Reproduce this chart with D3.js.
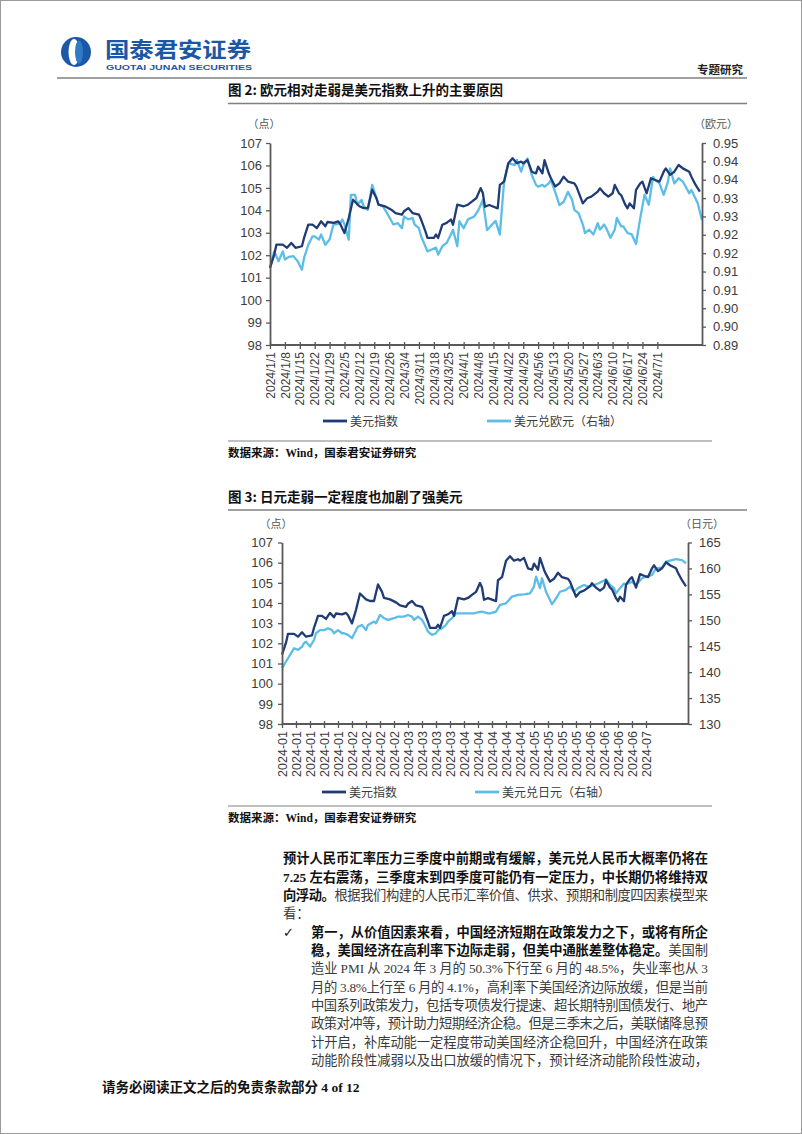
<!DOCTYPE html>
<html><head><meta charset="utf-8">
<script src="https://cdn.jsdelivr.net/npm/d3@7/dist/d3.min.js"></script>
<style>
html,body{margin:0;padding:0;background:#fff;}
svg{display:block;}
</style></head><body>
<svg id="page" width="802" height="1134"></svg>
<script>
// ---------------- DATA ----------------
const dxySeries = [
["2024-01-01",101.44],["2024-01-03",102.03],["2024-01-04",102.47],["2024-01-07",102.47],["2024-01-09",102.33],["2024-01-11",102.55],["2024-01-13",102.33],["2024-01-16",102.40],["2024-01-17",102.77],["2024-01-19",103.36],["2024-01-21",103.36],["2024-01-23",103.21],["2024-01-25",103.51],["2024-01-27",103.29],["2024-01-28",103.48],["2024-01-31",103.44],
["2024-02-02",103.51],["2024-02-03",103.39],["2024-02-05",102.99],["2024-02-07",103.66],["2024-02-09",104.47],["2024-02-12",104.18],["2024-02-14",104.10],["2024-02-16",104.10],["2024-02-18",104.92],["2024-02-20",104.55],["2024-02-21",104.25],["2024-02-24",104.18],["2024-02-27",104.03],["2024-02-29",103.88],
["2024-03-03",103.81],["2024-03-04",103.96],["2024-03-06",104.10],["2024-03-08",103.88],["2024-03-11",103.81],["2024-03-12",103.59],["2024-03-14",103.07],["2024-03-15",102.77],["2024-03-18",102.77],["2024-03-19",102.92],["2024-03-20",102.77],["2024-03-22",103.36],["2024-03-24",103.44],["2024-03-26",103.59],["2024-03-27",103.36],["2024-03-29",104.25],
["2024-04-01",104.18],["2024-04-03",104.25],["2024-04-05",104.40],["2024-04-07",104.55],["2024-04-09",104.99],["2024-04-10",104.77],["2024-04-11",104.16],["2024-04-13",104.24],["2024-04-17",104.09],["2024-04-18",105.13],["2024-04-20",105.28],["2024-04-22",106.10],["2024-04-24",106.32],["2024-04-26",106.10],["2024-04-28",106.17],["2024-04-29",106.10],
["2024-05-01",106.24],["2024-05-03",105.72],["2024-05-05",105.65],["2024-05-06",105.95],["2024-05-08",105.65],["2024-05-09",106.24],["2024-05-11",105.65],["2024-05-12",105.43],["2024-05-14",105.06],["2024-05-16",105.20],["2024-05-18",105.50],["2024-05-20",105.28],["2024-05-23",105.20],["2024-05-24",105.06],["2024-05-27",104.31],["2024-05-29",104.54],["2024-05-31",104.61],
["2024-06-03",104.83],["2024-06-04",104.98],["2024-06-06",104.76],["2024-06-08",104.61],["2024-06-10",104.76],["2024-06-11",105.13],["2024-06-13",104.76],["2024-06-14",104.68],["2024-06-16",104.24],["2024-06-17",104.09],["2024-06-18",104.31],["2024-06-20",104.09],["2024-06-21",104.91],["2024-06-23",105.20],["2024-06-24",105.28],["2024-06-26",104.76],["2024-06-28",105.43],["2024-06-30",105.35],
["2024-07-02",105.28],["2024-07-04",105.72],["2024-07-05",105.87],["2024-07-07",105.58],["2024-07-09",105.72],["2024-07-11",106.02],["2024-07-13",105.87],["2024-07-16",105.72],["2024-07-17",105.50],["2024-07-19",105.13],["2024-07-21",104.83]
];
const eurSeries = [
["2024-01-01",0.9110],["2024-01-03",0.9155],["2024-01-05",0.9128],["2024-01-07",0.9155],["2024-01-08",0.9133],["2024-01-10",0.9140],["2024-01-12",0.9142],["2024-01-14",0.9128],["2024-01-16",0.9105],["2024-01-17",0.9137],["2024-01-19",0.9173],["2024-01-21",0.9196],["2024-01-22",0.9196],["2024-01-24",0.9187],["2024-01-25",0.9201],["2024-01-27",0.9173],["2024-01-29",0.9187],["2024-01-31",0.9232],
["2024-02-01",0.9228],["2024-02-03",0.9232],["2024-02-04",0.9242],["2024-02-05",0.9228],["2024-02-07",0.9187],["2024-02-08",0.9309],["2024-02-10",0.9309],["2024-02-11",0.9282],["2024-02-13",0.9295],["2024-02-14",0.9278],["2024-02-16",0.9268],["2024-02-18",0.9336],["2024-02-21",0.9282],["2024-02-23",0.9278],["2024-02-25",0.9259],["2024-02-28",0.9228],
["2024-03-01",0.9232],["2024-03-03",0.9218],["2024-03-04",0.9250],["2024-03-06",0.9242],["2024-03-08",0.9246],["2024-03-09",0.9228],["2024-03-11",0.9218],["2024-03-12",0.9196],["2024-03-15",0.9155],["2024-03-17",0.9160],["2024-03-19",0.9165],["2024-03-20",0.9146],["2024-03-22",0.9169],["2024-03-24",0.9178],["2024-03-26",0.9201],["2024-03-27",0.9214],["2024-03-29",0.9169],["2024-03-30",0.9237],
["2024-04-01",0.9218],["2024-04-03",0.9242],["2024-04-06",0.9250],["2024-04-08",0.9268],["2024-04-10",0.9295],["2024-04-12",0.9213],["2024-04-16",0.9238],["2024-04-18",0.9201],["2024-04-20",0.9345],["2024-04-22",0.9395],["2024-04-25",0.9390],["2024-04-26",0.9404],["2024-04-28",0.9372],["2024-04-29",0.9390],
["2024-05-01",0.9408],["2024-05-02",0.9386],["2024-05-03",0.9363],["2024-05-05",0.9336],["2024-05-06",0.9331],["2024-05-08",0.9336],["2024-05-09",0.9331],["2024-05-11",0.9340],["2024-05-12",0.9349],["2024-05-14",0.9317],["2024-05-16",0.9281],["2024-05-18",0.9290],["2024-05-20",0.9317],["2024-05-22",0.9295],["2024-05-23",0.9268],["2024-05-25",0.9259],["2024-05-27",0.9228],["2024-05-28",0.9205],["2024-05-30",0.9214],
["2024-06-01",0.9201],["2024-06-03",0.9232],["2024-06-04",0.9214],["2024-06-06",0.9228],["2024-06-07",0.9218],["2024-06-09",0.9192],["2024-06-11",0.9214],["2024-06-12",0.9246],["2024-06-14",0.9223],["2024-06-15",0.9223],["2024-06-17",0.9205],["2024-06-19",0.9201],["2024-06-21",0.9175],["2024-06-23",0.9246],["2024-06-25",0.9309],["2024-06-27",0.9282],["2024-06-29",0.9358],["2024-06-30",0.9349],
["2024-07-02",0.9340],["2024-07-04",0.9309],["2024-07-06",0.9345],["2024-07-07",0.9381],["2024-07-09",0.9340],["2024-07-11",0.9354],["2024-07-13",0.9345],["2024-07-16",0.9313],["2024-07-17",0.9322],["2024-07-20",0.9286],["2024-07-22",0.9240]
];
const jpySeries = [
["2024-01-01",140.76],["2024-01-04",142.68],["2024-01-07",144.60],["2024-01-09",144.30],["2024-01-11",144.90],["2024-01-12",145.57],["2024-01-13",145.89],["2024-01-15",144.93],["2024-01-17",146.20],["2024-01-18",147.50],["2024-01-20",148.10],["2024-01-22",148.10],["2024-01-24",148.46],["2024-01-26",148.10],["2024-01-27",147.50],["2024-01-29",148.10],["2024-01-31",147.50],
["2024-02-01",147.50],["2024-02-03",147.20],["2024-02-05",146.54],["2024-02-07",148.10],["2024-02-08",148.78],["2024-02-10",149.10],["2024-02-12",148.10],["2024-02-13",149.10],["2024-02-16",149.75],["2024-02-17",149.43],["2024-02-19",151.03],["2024-02-21",150.40],["2024-02-23",150.07],["2024-02-26",150.40],["2024-02-28",150.71],
["2024-03-02",150.71],["2024-03-04",151.03],["2024-03-06",150.71],["2024-03-07",150.07],["2024-03-09",150.71],["2024-03-11",150.07],["2024-03-12",149.43],["2024-03-14",147.82],["2024-03-16",147.18],["2024-03-18",147.50],["2024-03-19",148.10],["2024-03-21",148.46],["2024-03-23",149.10],["2024-03-24",149.75],["2024-03-26",150.40],["2024-03-28",151.35],["2024-03-30",151.35],
["2024-04-01",151.35],["2024-04-04",151.35],["2024-04-06",151.35],["2024-04-08",151.55],["2024-04-10",151.67],["2024-04-13",151.35],["2024-04-14",151.35],["2024-04-17",151.67],["2024-04-19",152.96],["2024-04-22",153.28],["2024-04-25",154.56],["2024-04-28",154.90],
["2024-05-01",155.00],["2024-05-04",155.20],["2024-05-06",156.50],["2024-05-07",158.40],["2024-05-09",156.20],["2024-05-10",158.10],["2024-05-12",155.50],["2024-05-14",153.90],["2024-05-15",153.10],["2024-05-17",154.20],["2024-05-19",155.50],["2024-05-22",155.85],["2024-05-24",156.50],["2024-05-26",155.50],["2024-05-28",156.20],["2024-05-31",156.80],
["2024-06-02",156.50],["2024-06-05",156.80],["2024-06-07",157.10],["2024-06-09",157.45],["2024-06-11",157.90],["2024-06-13",156.80],["2024-06-15",156.20],["2024-06-16",155.20],["2024-06-18",156.20],["2024-06-20",157.10],["2024-06-21",156.90],["2024-06-24",157.45],["2024-06-26",156.80],["2024-06-29",158.10],
["2024-07-01",158.40],["2024-07-04",158.74],["2024-07-06",160.00],["2024-07-09",160.15],["2024-07-11",161.30],["2024-07-14",161.60],["2024-07-16",161.80],["2024-07-19",161.60],["2024-07-21",161.00]
];
const xTickLabels1 = ["2024/1/1","2024/1/8","2024/1/15","2024/1/22","2024/1/29","2024/2/5","2024/2/12","2024/2/19","2024/2/26","2024/3/4","2024/3/11","2024/3/18","2024/3/25","2024/4/1","2024/4/8","2024/4/15","2024/4/22","2024/4/29","2024/5/6","2024/5/13","2024/5/20","2024/5/27","2024/6/3","2024/6/10","2024/6/17","2024/6/24","2024/7/1"];
const xTickLabels2 = ["2024-01","2024-01","2024-01","2024-01","2024-01","2024-02","2024-02","2024-02","2024-02","2024-03","2024-03","2024-03","2024-03","2024-04","2024-04","2024-04","2024-04","2024-04","2024-05","2024-05","2024-05","2024-05","2024-06","2024-06","2024-06","2024-06","2024-07"];
const dxyTicks = [98,99,100,101,102,103,104,105,106,107];
const eurTicks = [0.89,0.895,0.90,0.905,0.91,0.915,0.92,0.925,0.93,0.935,0.94,0.945];
const eurTickLabels = ["0.89","0.90","0.90","0.91","0.91","0.92","0.92","0.93","0.93","0.94","0.94","0.95"];
const jpyTicks = [130,135,140,145,150,155,160,165];
const dateDomain = ["2024-01-01","2024-07-22"];

// ---------------- SETUP ----------------
const svg = d3.select("#page");
const parseDay = d3.timeParse("%Y-%m-%d");
const parseSlash = s => { const p = s.split("/").map(Number); return new Date(p[0], p[1]-1, p[2]); };
const tickDates = xTickLabels1.map(parseSlash);
const DARK = "#1f3c74", LIGHT = "#5cbde6", AX = "#595959", LBL = "#3c3c3c";
const CJK = "'Noto Sans CJK SC', sans-serif";
const NUM = "'Liberation Sans', Arial, sans-serif";
const BODY = "'Liberation Serif', 'Noto Sans CJK SC', serif";

// page frame
svg.append("rect").attr("x",0.5).attr("y",0.5).attr("width",801).attr("height",1133)
  .attr("fill","none").attr("stroke","#9a9a9a").attr("stroke-width",1);

// ---------------- HEADER ----------------
const logo = svg.append("g");
logo.append("circle").attr("cx",76).attr("cy",52).attr("r",15).attr("fill","#1b59a8");
logo.append("ellipse").attr("cx",74).attr("cy",52).attr("rx",5.5).attr("ry",13).attr("fill","#fff");
logo.append("ellipse").attr("cx",79).attr("cy",52).attr("rx",4).attr("ry",11.5).attr("fill","#2e7cc8");
svg.append("text").attr("x",105).attr("y",57).attr("font-family",CJK).attr("font-weight",700)
  .attr("font-size",21).attr("fill","#1c57a5").attr("textLength",146).attr("lengthAdjust","spacingAndGlyphs").text("国泰君安证券");
svg.append("text").attr("x",106).attr("y",69.5).attr("font-family",NUM).attr("font-weight",700)
  .attr("font-size",7.5).attr("fill","#1c57a5").attr("textLength",146).attr("lengthAdjust","spacingAndGlyphs").text("GUOTAI JUNAN SECURITIES");
svg.append("text").attr("x",743).attr("y",74).attr("text-anchor","end").attr("font-family",CJK).attr("font-weight",700)
  .attr("font-size",11.5).attr("fill","#222").text("专题研究");
svg.append("line").attr("x1",57).attr("x2",747).attr("y1",78).attr("y2",78).attr("stroke","#808080").attr("stroke-width",1.3);

// ---------------- CHART DRAWER ----------------
function drawChart(cfg) {
  const g = svg.append("g");
  const x = d3.scaleTime().domain(dateDomain.map(parseDay)).range([cfg.left, cfg.right]);
  const yL = d3.scaleLinear().domain([98,107]).range([cfg.bottom, cfg.top]);
  const yR = d3.scaleLinear().domain(cfg.rDomain).range([cfg.bottom, cfg.top]);

  g.append("text").attr("x",228).attr("y",cfg.titleY).attr("font-family",CJK).attr("font-weight",700)
    .attr("font-size",13.5).attr("fill","#111").text(cfg.title);
  g.append("line").attr("x1",228).attr("x2",747).attr("y1",cfg.titleLineY).attr("y2",cfg.titleLineY)
    .attr("stroke","#808080").attr("stroke-width",1.3);

  g.append("text").attr("x",cfg.left-6).attr("y",cfg.top-15).attr("text-anchor","middle").attr("font-family",CJK)
    .attr("font-size",11).attr("fill","#555").text("（点）");
  g.append("text").attr("x",cfg.right+14).attr("y",cfg.top-15).attr("text-anchor","middle").attr("font-family",CJK)
    .attr("font-size",11).attr("fill","#555").text(cfg.rUnit);

  const lineL = d3.line().x(d => x(parseDay(d[0]))).y(d => yL(d[1]));
  const lineR = d3.line().x(d => x(parseDay(d[0]))).y(d => yR(d[1]));
  g.append("path").datum(cfg.rSeries).attr("d",lineR).attr("fill","none").attr("stroke",LIGHT)
    .attr("stroke-width",2.3).attr("stroke-linejoin","round");
  g.append("path").datum(dxySeries).attr("d",lineL).attr("fill","none").attr("stroke",DARK)
    .attr("stroke-width",2.3).attr("stroke-linejoin","round");

  const ga = g.append("g").attr("transform",`translate(${cfg.left},0)`)
    .call(d3.axisLeft(yL).tickValues(dxyTicks).tickFormat(d => String(d)).tickSizeInner(4).tickSizeOuter(0).tickPadding(cfg.padL));
  const gr = g.append("g").attr("transform",`translate(${cfg.right},0)`)
    .call(d3.axisRight(yR).tickValues(cfg.rTicks).tickFormat((d,i) => cfg.rLabels[i]).tickSizeInner(4).tickSizeOuter(0).tickPadding(cfg.padR));
  const gb = g.append("g").attr("transform",`translate(0,${cfg.bottom})`)
    .call(d3.axisBottom(x).tickValues(tickDates).tickFormat((d,i) => cfg.xLabels[i]).tickSizeInner(4).tickSizeOuter(0));
  gb.selectAll(".tick line").attr("y1",-3);
  gb.selectAll(".tick text").attr("transform","rotate(-90)").attr("text-anchor","end")
    .attr("x",-7).attr("y",0).attr("dy","0.35em").attr("font-size",cfg.xFont);
  gb.select(".domain").attr("d",`M${cfg.left},0H${cfg.right}`);
  [ga,gr,gb].forEach(a => {
    a.select(".domain").attr("stroke",AX).attr("stroke-width",1.8);
    a.selectAll(".tick line").attr("stroke",AX).attr("stroke-width",1.3);
    a.selectAll(".tick text").attr("fill",LBL).attr("font-family",NUM);
  });
  ga.selectAll(".tick text").attr("font-size",13);
  gr.selectAll(".tick text").attr("font-size",13);

  const ly = cfg.legendY;
  g.append("line").attr("x1",cfg.leg1x).attr("x2",cfg.leg1x+24).attr("y1",ly).attr("y2",ly).attr("stroke",DARK).attr("stroke-width",2.8);
  g.append("text").attr("x",cfg.leg1x+27).attr("y",ly+4.5).attr("font-family",CJK).attr("font-size",12).attr("fill",LBL).text("美元指数");
  g.append("line").attr("x1",cfg.leg2x).attr("x2",cfg.leg2x+24).attr("y1",ly).attr("y2",ly).attr("stroke",LIGHT).attr("stroke-width",2.8);
  g.append("text").attr("x",cfg.leg2x+27).attr("y",ly+4.5).attr("font-family",CJK).attr("font-size",12).attr("fill",LBL).text(cfg.leg2);

  g.append("line").attr("x1",228).attr("x2",712).attr("y1",cfg.srcLineY).attr("y2",cfg.srcLineY)
    .attr("stroke","#808080").attr("stroke-width",1.2);
  g.append("text").attr("x",228).attr("y",cfg.srcLineY+16).attr("font-family",BODY).attr("font-weight",700)
    .attr("font-size",11.5).attr("fill","#111").text("数据来源：Wind，国泰君安证券研究");
}

drawChart({
  title:"图 2: 欧元相对走弱是美元指数上升的主要原因", titleY:95, titleLineY:103.5,
  left:270, right:702, top:143, bottom:345,
  rDomain:[0.89,0.945], rTicks:eurTicks, rLabels:eurTickLabels, rSeries:eurSeries, rUnit:"（欧元）",
  xLabels:xTickLabels1, xFont:12, padL:4, padR:7,
  legendY:421, leg1x:323, leg2x:487, leg2:"美元兑欧元（右轴）", srcLineY:441
});
drawChart({
  title:"图 3: 日元走弱一定程度也加剧了强美元", titleY:502, titleLineY:510,
  left:282, right:688, top:542.5, bottom:724,
  rDomain:[130,165], rTicks:jpyTicks, rLabels:jpyTicks.map(String), rSeries:jpySeries, rUnit:"（日元）",
  xLabels:xTickLabels2, xFont:12.5, padL:5, padR:7,
  legendY:792, leg1x:322, leg2x:475, leg2:"美元兑日元（右轴）", srcLineY:806
});

// ---------------- BODY TEXT ----------------
const paraLines = [
  {x:283, w:425, y:863, segs:[["预计人民币汇率压力三季度中前期或有缓解，美元兑人民币大概率仍将在",1]]},
  {x:283, w:425, y:881.5, segs:[["7.25 左右震荡，三季度末到四季度可能仍有一定压力，中长期仍将维持双",1]]},
  {x:283, w:425, y:900, segs:[["向浮动。",1],["根据我们构建的人民币汇率价值、供求、预期和制度四因素模型来",0]]},
  {x:283, w:0,   y:918, segs:[["看：",0]]},
  {x:311, w:397, y:936.5, segs:[["第一，从价值因素来看，中国经济短期在政策发力之下，或将有所企",1]]},
  {x:311, w:397, y:955, segs:[["稳，美国经济在高利率下边际走弱，但美中通胀差整体稳定。",1],["美国制",0]]},
  {x:311, w:397, y:973, segs:[["造业 PMI 从 2024 年 3 月的 50.3%下行至 6 月的 48.5%，失业率也从 3",0]]},
  {x:311, w:397, y:991.5, segs:[["月的 3.8%上行至 6 月的 4.1%，高利率下美国经济边际放缓，但是当前",0]]},
  {x:311, w:397, y:1010, segs:[["中国系列政策发力，包括专项债发行提速、超长期特别国债发行、地产",0]]},
  {x:311, w:397, y:1028, segs:[["政策对冲等，预计助力短期经济企稳。但是三季末之后，美联储降息预",0]]},
  {x:311, w:397, y:1046.5, segs:[["计开启，补库动能一定程度带动美国经济企稳回升，中国经济在政策",0]]},
  {x:311, w:397, y:1065, segs:[["动能阶段性减弱以及出口放缓的情况下，预计经济动能阶段性波动，",0]]}
];
paraLines.forEach(l => {
  const t = svg.append("text").attr("x",l.x).attr("y",l.y).attr("font-family",BODY).attr("font-size",13.3);
  if (l.w) t.attr("textLength",l.w).attr("lengthAdjust","spacing");
  l.segs.forEach(s => t.append("tspan").attr("font-weight",s[1]?700:400).attr("fill",s[1]?"#111":"#3a3a3a").text(s[0]));
});
svg.append("text").attr("x",283).attr("y",936.5).attr("font-family","'DejaVu Sans', sans-serif").attr("font-size",13).attr("fill","#111").text("✓");

svg.append("text").attr("x",102).attr("y",1092).attr("font-family",BODY).attr("font-weight",700)
  .attr("font-size",13.5).attr("fill","#111").text("请务必阅读正文之后的免责条款部分 4 of 12");
</script>
</body></html>
